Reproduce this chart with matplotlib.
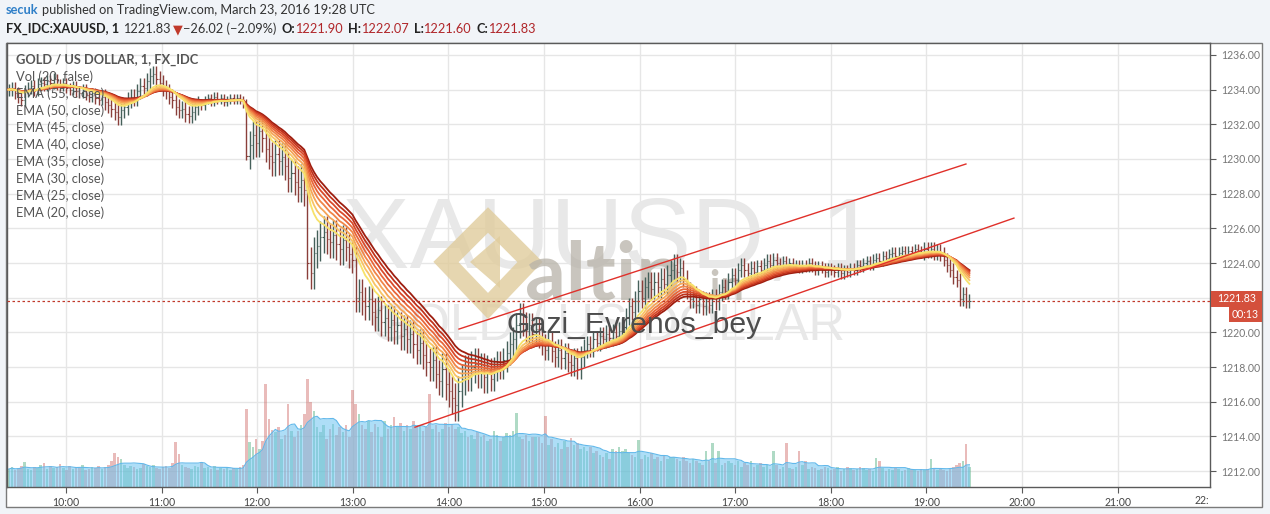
"""XAUUSD 1-minute chart with EMA ribbon, volume and channel lines."""

import matplotlib
matplotlib.use("Agg")
import matplotlib.pyplot as plt
import matplotlib.transforms as mtransforms
from matplotlib.patches import Rectangle, Polygon
import numpy as np
import pandas as pd

W, H = 1270, 514

# closes, one per 2 minutes from 09:24
close = [
    1234.0, 1234.1, 1233.8, 1233.6, 1233.4, 1233.9, 1234.1, 1234.2, 1234.0, 1234.3, 1234.4, 1234.3, 1234.5, 1234.4, 1234.6,
    1234.3, 1234.2, 1234.4, 1234.1, 1234.0, 1234.2, 1233.9, 1233.8, 1234.0, 1233.7, 1233.6, 1233.8, 1233.5, 1233.4, 1233.6,
    1233.3, 1233.1, 1232.9, 1232.7, 1232.4, 1232.8, 1233.0, 1233.4, 1233.6, 1233.5, 1233.9, 1234.2, 1234.1, 1234.5, 1234.8,
    1234.9, 1234.6, 1234.4, 1234.1, 1233.9, 1233.6, 1233.4, 1233.0, 1232.8, 1232.9, 1232.6, 1232.5, 1232.7, 1233.0, 1233.2,
    1233.1, 1233.4, 1233.5, 1233.3, 1233.6, 1233.4, 1233.5, 1233.3, 1233.4, 1233.5, 1233.4, 1233.5, 1233.4, 1233.2, 1230.2,
    1230.8, 1231.4, 1230.9, 1231.6, 1231.2, 1230.6, 1230.2, 1229.8, 1230.3, 1229.9, 1230.1, 1229.6, 1228.9, 1229.2, 1228.7,
    1228.4, 1228.8, 1228.2, 1224.0, 1223.4, 1224.6, 1225.0, 1225.5, 1225.8, 1225.4, 1225.2, 1225.6, 1225.1, 1224.8, 1225.3,
    1224.9, 1224.5, 1224.2, 1222.0, 1222.3, 1221.8, 1221.5, 1221.9, 1221.2, 1220.9, 1221.3, 1220.6, 1220.8, 1220.3, 1220.7,
    1220.1, 1220.4, 1219.8, 1220.2, 1219.6, 1219.9, 1219.3, 1219.0, 1219.4, 1218.7, 1218.3, 1218.0, 1218.4, 1217.6, 1217.2,
    1217.9, 1217.0, 1216.6, 1216.2, 1215.8, 1216.6, 1217.3, 1217.8, 1217.5, 1218.0, 1218.2, 1217.7, 1217.9, 1217.4, 1217.8,
    1217.3, 1217.9, 1218.2, 1218.0, 1218.4, 1218.8, 1219.3, 1219.6, 1220.4, 1221.0, 1220.5, 1220.1, 1220.4, 1219.9, 1220.2,
    1219.7, 1219.3, 1219.0, 1219.4, 1218.9, 1218.6, 1219.0, 1218.5, 1218.8, 1218.3, 1218.1, 1218.5, 1217.9, 1218.6, 1219.0,
    1219.3, 1219.1, 1219.6, 1219.4, 1219.8, 1219.6, 1219.9, 1219.7, 1220.0, 1219.8, 1220.1, 1220.3, 1220.9, 1221.5, 1221.2,
    1221.8, 1222.4, 1222.0, 1222.6, 1222.9, 1222.5, 1222.9, 1222.6, 1223.1, 1222.8, 1223.3, 1223.6, 1223.9, 1223.5, 1223.7,
    1223.1, 1222.4, 1221.9, 1222.2, 1221.6, 1221.9, 1221.5, 1221.8, 1221.6, 1222.0, 1221.8, 1222.3, 1222.6, 1222.4, 1222.9,
    1223.3, 1223.0, 1223.6, 1223.9, 1223.6, 1223.4, 1223.7, 1223.5, 1223.8, 1223.6, 1223.9, 1224.1, 1223.9, 1224.2, 1224.0,
    1223.8, 1224.1, 1223.9, 1224.0, 1223.8, 1223.9, 1223.7, 1223.9, 1223.8, 1224.0, 1223.8, 1223.6, 1223.8, 1223.7, 1223.5,
    1223.7, 1223.6, 1223.5, 1223.7, 1223.4, 1223.6, 1223.5, 1223.7, 1223.6, 1223.9, 1223.8, 1224.0, 1224.1, 1223.9, 1224.2,
    1224.3, 1224.1, 1224.4, 1224.3, 1224.5, 1224.6, 1224.4, 1224.6, 1224.7, 1224.5, 1224.7, 1224.6, 1224.8, 1224.7, 1224.6,
    1224.8, 1224.7, 1224.8, 1224.6, 1224.7, 1224.5, 1224.2, 1223.9, 1223.6, 1223.2, 1223.0, 1221.9, 1222.2, 1221.8, 1221.83,
]

# typical wick beyond the body, one value per 30 minutes
wick = [0.35, 0.3, 0.45, 0.45, 0.25, 0.8, 0.9, 0.8, 0.8, 0.9,
        0.7, 0.6, 0.5, 0.6, 0.5, 0.4, 0.3, 0.3, 0.3, 0.4]

volume = [
    18, 20, 17, 19, 21, 25, 18, 17, 20, 19, 22, 24, 18, 21, 19,
    20, 23, 19, 17, 21, 18, 20, 19, 22, 17, 18, 20, 19, 21, 18,
    20, 22, 26, 34, 30, 28, 22, 19, 21, 20, 18, 19, 23, 21, 20,
    22, 19, 18, 20, 21, 19, 24, 45, 33, 22, 20, 19, 18, 21, 20,
    25, 19, 20, 18, 21, 17, 19, 18, 20, 17, 19, 18, 20, 22, 79,
    45, 40, 48, 38, 46, 104, 68, 57, 55, 60, 48, 52, 84, 56, 50,
    56, 62, 73, 109, 86, 76, 60, 55, 62, 48, 58, 63, 52, 60, 55,
    62, 50, 98, 84, 73, 62, 58, 66, 55, 63, 60, 50, 66, 58, 62,
    70, 60, 64, 56, 62, 58, 66, 60, 62, 56, 60, 94, 58, 62, 55,
    58, 64, 60, 63, 58, 60, 54, 56, 50, 52, 48, 55, 50, 52, 46,
    48, 56, 52, 46, 50, 54, 52, 56, 74, 50, 48, 52, 46, 50, 50,
    50, 44, 71, 42, 48, 40, 44, 38, 46, 40, 49, 42, 44, 38, 40,
    36, 40, 34, 36, 32, 30, 34, 28, 38, 36, 40, 36, 38, 34, 32,
    30, 47, 28, 32, 30, 34, 28, 30, 26, 32, 28, 30, 30, 28, 26,
    30, 26, 24, 28, 26, 24, 22, 36, 26, 44, 24, 36, 22, 24, 26,
    24, 22, 26, 20, 24, 22, 26, 20, 22, 24, 20, 22, 18, 36, 22,
    18, 20, 44, 19, 18, 20, 36, 22, 26, 18, 20, 19, 17, 18, 20,
    19, 17, 18, 20, 16, 18, 20, 19, 17, 18, 20, 19, 17, 18, 16,
    29, 26, 19, 16, 18, 17, 19, 18, 16, 17, 19, 18, 17, 16, 18,
    17, 18, 28, 19, 17, 18, 17, 16, 18, 20, 22, 24, 26, 43, 20,
]

ema_periods = [55, 50, 45, 40, 35, 30, 25, 20]
ema_colors = ["#9e1e10", "#c0321c", "#d94a2a", "#e8663a",
              "#f08548", "#f5a557", "#f8c465", "#f7e26a"]

# channel lines: (hour, price) end points
channel_t = [[14.111, 19.414], [13.651, 19.916]]
channel_p = [[1220.19, 1229.71], [1214.53, 1226.59]]

last_price = 1221.83
countdown = "00:13"
# 1222 sits under the last-price tag, so it has no label
price_ticks = [1212, 1214, 1216, 1218, 1220, 1224, 1226, 1228, 1230, 1232, 1234, 1236]
grid_prices = [1212, 1214, 1216, 1218, 1220, 1222, 1224, 1226, 1228, 1230, 1232, 1234, 1236]
hour_ticks = [10, 11, 12, 13, 14, 15, 16, 17, 18, 19, 20, 21]
legend_lines = ["Vol (20, false)"] + [f"EMA ({p}, close)" for p in ema_periods]

plt.rcParams["font.family"] = ["Lato", "DejaVu Sans"]

fig = plt.figure(figsize=(W / 100, H / 100), dpi=100, facecolor="#f1f4f8")
PX = mtransforms.Affine2D().scale(1 / W, -1 / H).translate(0, 1) + fig.transFigure

# white chart panel behind the axes
fig.patches.append(Rectangle((6, 43), 1256, 464, transform=PX, facecolor="white",
                             edgecolor="#7a7a7a", lw=1, zorder=-5))

ax = fig.add_axes([7 / W, 1 - 487 / H, (1210 - 7) / W, (487 - 43) / H])
ax.set_facecolor("white")
ylo, yhi = 1211.08, 1236.69
ax.set_xlim(9.383, 21.967)
ax.set_ylim(ylo, yhi)

n = len(close)
t = np.linspace(9.40, 19.45, n)
c = np.array(close)
o = np.r_[c[0], c[:-1]]
w = np.repeat(wick, 15)[:n]
hi = np.maximum(o, c) + w
lo = np.minimum(o, c) - w
up = c >= o
step = t[1] - t[0]

# grid
for h in hour_ticks:
    ax.axvline(h, color="#e6e6e6", lw=1, zorder=0.1)
for p in grid_prices:
    ax.axhline(p, color="#e6e6e6", lw=1, zorder=0.1)

# watermark
ax.text(610, 268, "XAUUSD, 1", transform=PX, ha="center", va="baseline",
        fontsize=73, family="Liberation Sans", color="#e8e8e8", zorder=0.5)
ax.text(608, 340, "GOLD / US DOLLAR", transform=PX, ha="center", va="baseline",
        fontsize=36.6, family="Liberation Sans", color="#e8e8e8", zorder=0.5)
ax.add_patch(Polygon([(488, 220), (530, 262), (488, 306), (446, 262)], closed=True,
                     transform=PX, facecolor="none", edgecolor="#e0cc9c", lw=13,
                     alpha=0.8, zorder=0.6))
ax.add_patch(Polygon([(470, 262), (500, 236), (500, 288)], closed=True,
                     transform=PX, facecolor="#e0cc9c", lw=0, alpha=0.8, zorder=0.6))
ax.text(525, 300, "altin", transform=PX, ha="left", va="baseline", fontsize=58,
        fontweight="bold", color="#b7b2a8", alpha=0.75, zorder=0.6)
ax.text(700, 300, ".in", transform=PX, ha="left", va="baseline", fontsize=30,
        fontweight="bold", color="#b7b2a8", alpha=0.75, zorder=0.6)

# volume, scaled into the lower part of the price pane; MA area laid over the bars
k = (yhi - ylo) / (max(volume) * 4.1)
vol = np.array(volume, dtype=float)
vol_ma = pd.Series(vol).rolling(10, min_periods=1).mean().to_numpy()
ax.bar(t[up], vol[up] * k, bottom=ylo, width=step * 0.8, color="#4fae80", alpha=0.45, zorder=1)
ax.bar(t[~up], vol[~up] * k, bottom=ylo, width=step * 0.8, color="#cf6a66", alpha=0.45, zorder=1)
ax.fill_between(t, ylo, ylo + vol_ma * k, color="#6cc4f2", alpha=0.55, lw=0, zorder=1.1)
ax.plot(t, ylo + vol_ma * k, color="#62b8ea", lw=0.8, zorder=1.2)

# OHLC bars
bar_col = np.where(up, "#45605a", "#8a3f3a")
ax.vlines(t, lo, hi, colors=bar_col, lw=1, zorder=2)
ax.hlines(o, t - step * 0.35, t, colors=bar_col, lw=0.8, zorder=2)
ax.hlines(c, t, t + step * 0.35, colors=bar_col, lw=0.8, zorder=2)

# EMA ribbon, slowest first
for p, col in zip(ema_periods, ema_colors):
    ema = pd.Series(c).ewm(span=p / 2, adjust=False).mean()
    ax.plot(t, ema, color=col, lw=1.3, zorder=3)

for tt, pp in zip(channel_t, channel_p):
    ax.plot(tt, pp, color="#e0302a", lw=1, zorder=4)

ax.axhline(last_price, color="#c0392b", lw=0.9, ls=(0, (2, 2)), zorder=4)

ax.text(507, 333, "Gazi_Evrenos_bey", transform=PX, ha="left", va="baseline",
        fontsize=21.8, family="Liberation Sans", color="#4d4d4d", zorder=5)

# axes styling
for s in ax.spines.values():
    s.set_color("#5a5a5a")
    s.set_linewidth(1)
ax.yaxis.tick_right()
ax.set_yticks(price_ticks)
ax.set_yticklabels([f"{v:.2f}" for v in price_ticks])
ax.set_xticks(hour_ticks)
ax.set_xticklabels([f"{h}:00" for h in hour_ticks])
ax.tick_params(axis="y", length=4, color="#5a5a5a", labelsize=7.6, labelcolor="#777777", pad=4)
ax.tick_params(axis="x", length=4, color="#5a5a5a", labelsize=7.6, labelcolor="#444444", pad=3)
fig.text(1209 / W, 1 - 500 / H, "22:", ha="right", va="center", fontsize=7.6, color="#444444")

# last price and countdown tags
fig.patches.append(Rectangle((1211, 291), 51, 16, transform=PX, facecolor="#d4503c", lw=0, zorder=5))
fig.patches.append(Rectangle((1229, 307), 33, 15, transform=PX, facecolor="#d4503c", lw=0, zorder=5))
fig.text(1236.5 / W, 1 - 299 / H, f"{last_price:.2f}", ha="center", va="center",
         fontsize=7.6, color="white", zorder=6)
fig.text(1245.5 / W, 1 - 314.5 / H, countdown, ha="center", va="center",
         fontsize=7.6, color="white", zorder=6)

# legend block
ax.text(16, 60, "GOLD / US DOLLAR, 1, FX_IDC", transform=PX, ha="left", va="center",
        fontsize=9.3, fontweight="bold", color="#555555", zorder=6)
for i, s in enumerate(legend_lines):
    ax.text(16, 77 + 17 * i, s, transform=PX, ha="left", va="center",
            fontsize=9.3, color="#555555", zorder=6)


def text_run(x, y, parts, size=9.2):
    renderer = fig.canvas.get_renderer()
    for s, col, weight, gap in parts:
        txt = fig.text(x / W, 1 - y / H, s, ha="left", va="center", fontsize=size,
                       color=col, fontweight=weight)
        x += txt.get_window_extent(renderer).width + gap


red = "#b0262a"
text_run(6, 10, [("secuk", "#2f7fc8", "bold", 3),
                 ("published on TradingView.com, March 23, 2016 19:28 UTC", "#333333", "normal", 0)])
text_run(6, 29, [("FX_IDC:XAUUSD, 1", "#222222", "bold", 4),
                 ("1221.83", "#333333", "normal", 2),
                 ("\u25bc", "#c0392b", "normal", 1),
                 ("\u221226.02 (\u22122.09%)", "#333333", "normal", 5),
                 ("O:", "#222222", "bold", 0), ("1221.90", red, "normal", 5),
                 ("H:", "#222222", "bold", 0), ("1222.07", red, "normal", 5),
                 ("L:", "#222222", "bold", 0), ("1221.60", red, "normal", 5),
                 ("C:", "#222222", "bold", 0), ("1221.83", red, "normal", 0)])

fig.savefig("out.png", dpi=100, facecolor=fig.get_facecolor())
